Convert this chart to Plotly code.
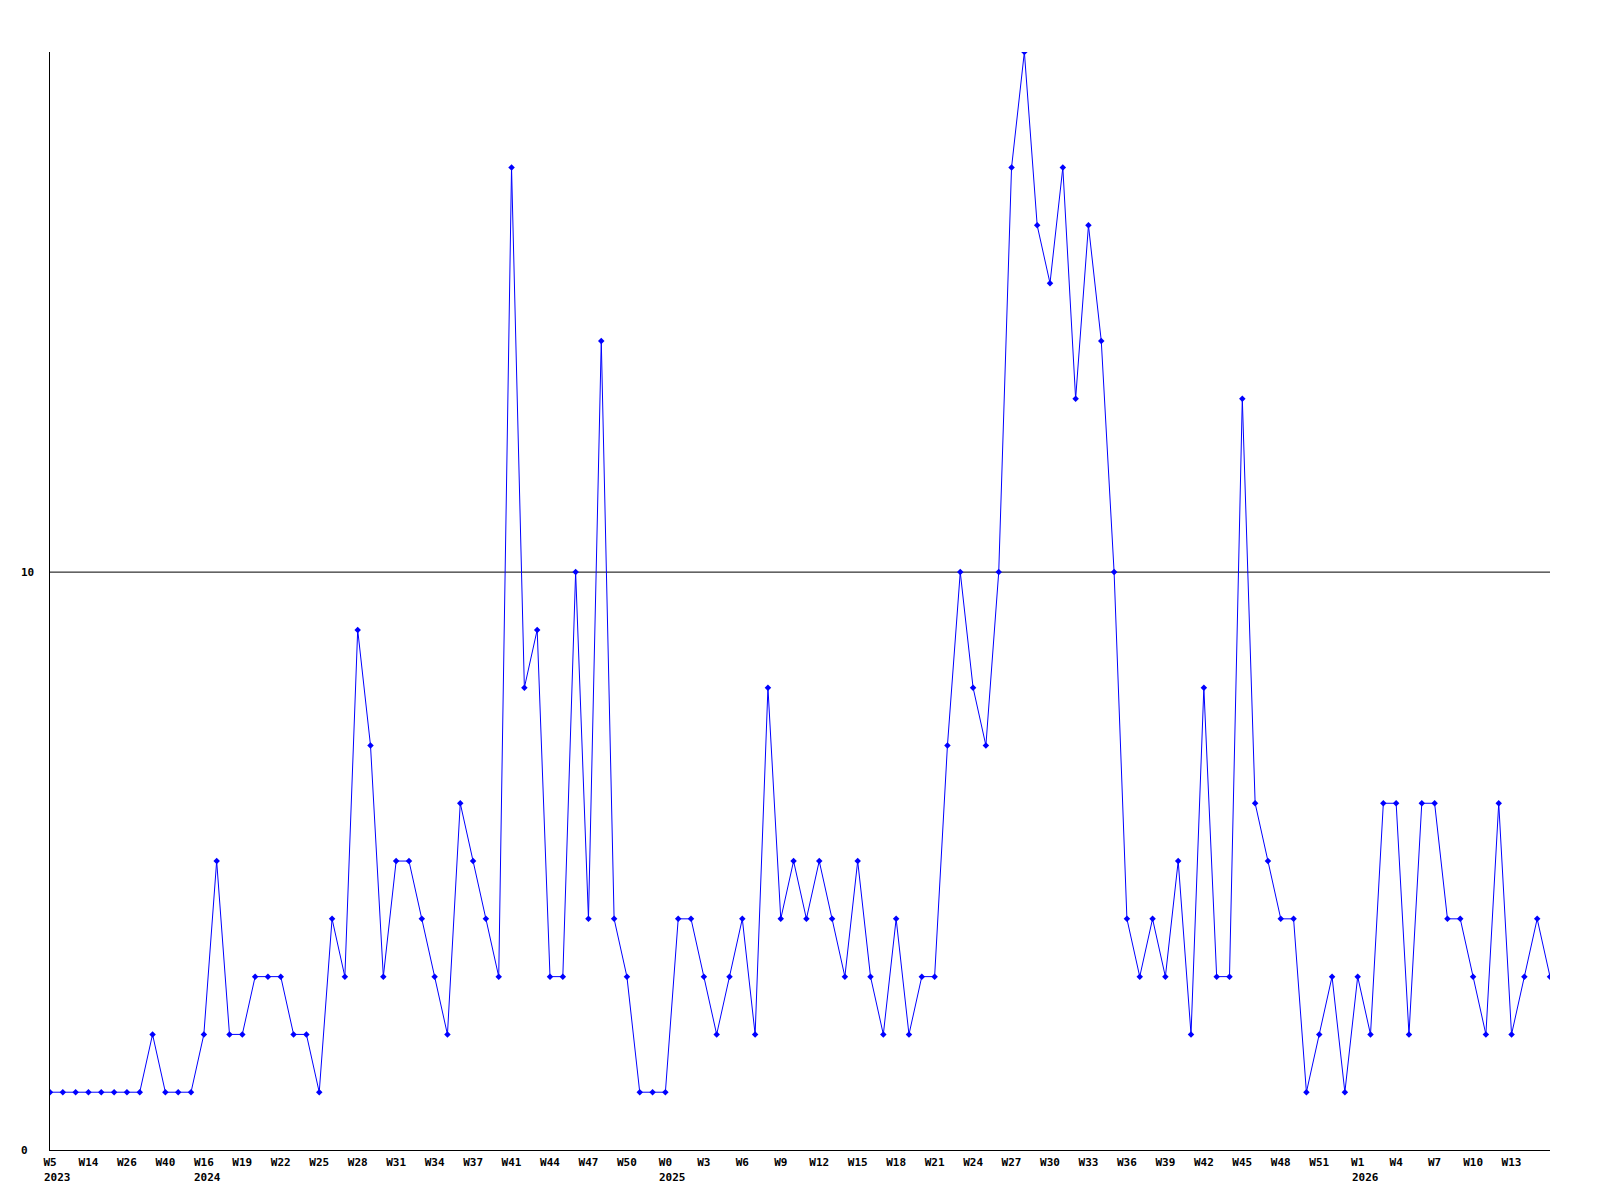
import plotly.graph_objects as go

values = [1, 1, 1, 1, 1, 1, 1, 1, 2, 1,
          1, 1, 2, 5, 2, 2, 3, 3, 3, 2,
          2, 1, 4, 3, 9, 7, 3, 5, 5, 4,
          3, 2, 6, 5, 4, 3, 17, 8, 9, 3,
          3, 10, 4, 14, 4, 3, 1, 1, 1, 4,
          4, 3, 2, 3, 4, 2, 8, 4, 5, 4,
          5, 4, 3, 5, 3, 2, 4, 2, 3, 3,
          7, 10, 8, 7, 10, 17, 19, 16, 15, 17,
          13, 16, 14, 10, 4, 3, 4, 3, 5, 2,
          8, 3, 3, 13, 6, 5, 4, 4, 1, 2,
          3, 1, 3, 2, 6, 6, 2, 6, 6, 4,
          4, 3, 2, 6, 2, 3, 4, 3]

week_labels = ["W5", "W14", "W26", "W40", "W16", "W19", "W22", "W25", "W28", "W31",
               "W34", "W37", "W41", "W44", "W47", "W50", "W0", "W3", "W6", "W9",
               "W12", "W15", "W18", "W21", "W24", "W27", "W30", "W33", "W36", "W39",
               "W42", "W45", "W48", "W51", "W1", "W4", "W7", "W10", "W13"]
label_step = 3
year_labels = {"W5": "2023", "W16": "2024", "W0": "2025", "W1": "2026"}
y_ticks = [0, 10]

FONT = "DejaVu Sans Mono"
x = list(range(len(values)))
tickvals = [i * label_step for i in range(len(week_labels))]

fig = go.Figure()
fig.add_trace(go.Scatter(
    x=x, y=values, mode="lines+markers",
    line=dict(color="#0000ff", width=1),
    marker=dict(symbol="diamond", size=5, color="#0000ff"),
    hoverinfo="skip",
))

annotations = []
for tv, wl in zip(tickvals, week_labels):
    if wl in year_labels:
        annotations.append(dict(
            x=tv, y=0, xref="x", yref="paper", text="<b>%s</b>" % year_labels[wl],
            showarrow=False, xanchor="left", yanchor="middle",
            xshift=-len(wl) * 3.5 - 1, yshift=-27,
            font=dict(family=FONT, size=11, color="black"),
        ))
for yt in y_ticks:
    annotations.append(dict(
        x=0, y=yt, xref="paper", yref="y", text="<b>%d</b>" % yt,
        showarrow=False, xanchor="left", yanchor="middle", xshift=-31,
        font=dict(family=FONT, size=11, color="black"),
    ))

fig.update_layout(
    width=1600, height=1200,
    margin=dict(l=42, r=58, t=44, b=58),
    paper_bgcolor="white", plot_bgcolor="white",
    showlegend=False,
    annotations=annotations,
    shapes=[dict(type="line", xref="paper", x0=0, x1=1, yref="y", y0=10, y1=10,
                 line=dict(color="black", width=1), layer="below")],
    xaxis=dict(
        range=[0, len(values) - 1], tickmode="array", tickvals=tickvals,
        ticktext=["<b>%s</b>" % w for w in week_labels],
        tickfont=dict(family=FONT, size=11, color="black"),
        showgrid=False, zeroline=False, showline=True, linecolor="black", linewidth=1,
        ticks="", ticklabelstandoff=2,
    ),
    yaxis=dict(
        range=[0, 19], showgrid=False, zeroline=False, showline=True,
        linecolor="black", linewidth=1, showticklabels=False, ticks="",
    ),
)

fig.write_html("out.html")
